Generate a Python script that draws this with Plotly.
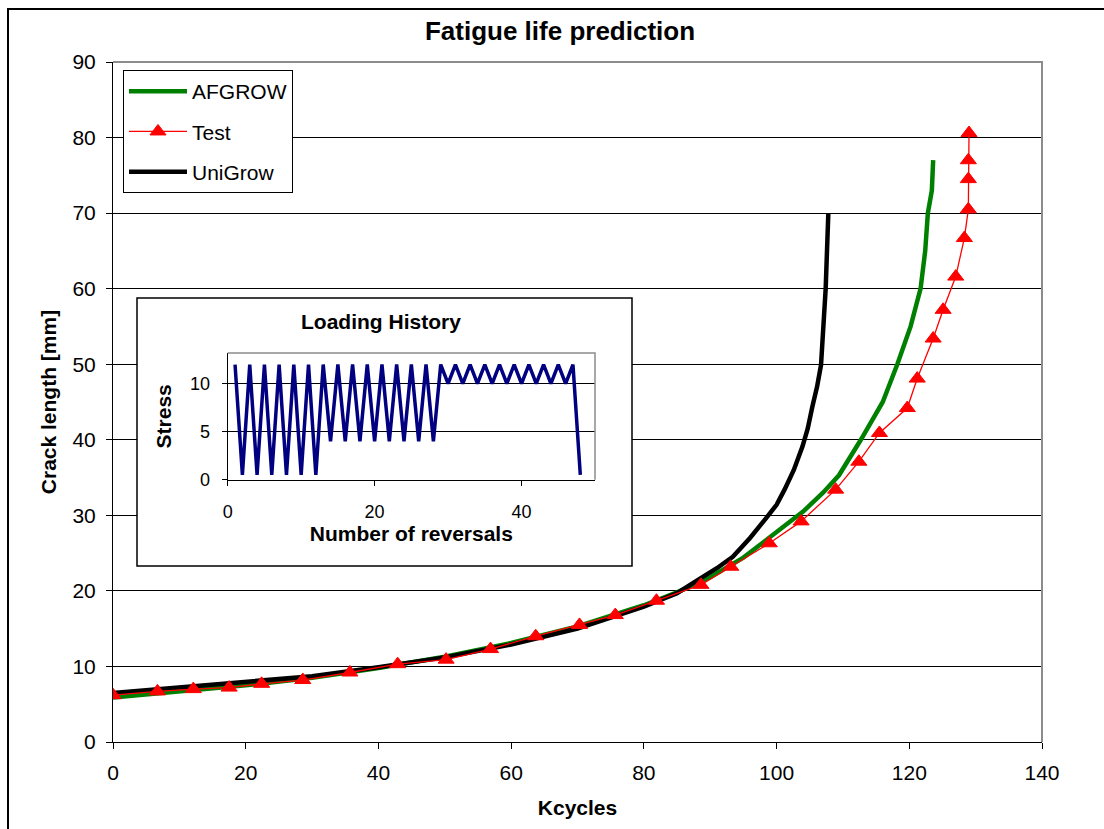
import plotly.graph_objects as go

# ---------------- data ----------------
afgrow_kcycles = [0, 10, 20, 30, 40, 50, 60, 70, 80, 85, 90, 95, 100, 104, 107,
                  109.4, 112.7, 116.0, 118.2, 120.2, 121.7, 122.4, 122.8, 123.4, 123.6]
afgrow_crack = [5.9, 6.7, 7.5, 8.5, 9.8, 11.3, 13.1, 15.3, 18.1, 19.8, 21.8, 24.4, 27.8, 30.5, 33.0,
                35.3, 40.0, 45.0, 50.0, 55.0, 60.0, 65.0, 70.0, 73.0, 77.0]

test_kcycles = [0, 6.7, 12.1, 17.5, 22.4, 28.6, 35.7, 42.9, 50.2, 56.9, 63.7, 70.3, 75.7, 81.9,
                88.6, 93.1, 98.9, 103.7, 108.9, 112.4, 115.5, 119.7, 121.2, 123.6, 125.1, 127.0,
                128.3, 128.9, 128.9, 128.9, 129.0]
test_crack = [6.2, 6.7, 7.0, 7.2, 7.7, 8.2, 9.2, 10.3, 10.9, 12.3, 14.0, 15.5, 16.8, 18.7,
              20.8, 23.2, 26.3, 29.2, 33.4, 37.1, 40.9, 44.2, 48.1, 53.4, 57.2, 61.6,
              66.7, 70.5, 74.5, 77.0, 80.6]

unigrow_kcycles = [0, 10, 20, 30, 40, 50, 60, 70, 80, 85, 88.4, 91, 93.4, 96, 98.4, 100, 101.2,
                   102.6, 103.9, 104.7, 105.4, 106.1, 106.7, 107.1, 107.4, 107.6, 107.8]
unigrow_crack = [6.5, 7.2, 7.9, 8.7, 9.9, 11.2, 12.9, 15.0, 17.9, 19.7, 21.6, 23.0, 24.5, 27.0,
                 29.6, 31.4, 33.4, 36.0, 39.1, 41.5, 44.4, 47.0, 49.9, 55.0, 60.0, 65.0, 70.0]

reversals = list(range(1, 49))
stress = [12, 0.5, 12, 0.5, 12, 0.5, 12, 0.5, 12, 0.5, 12, 0.5,
          12, 4, 12, 4, 12, 4, 12, 4, 12, 4, 12, 4, 12, 4, 12, 4,
          12, 10, 12, 10, 12, 10, 12, 10, 12, 10, 12, 10, 12, 10, 12, 10, 12, 10,
          12, 0.5]

main_x_ticks = [0, 20, 40, 60, 80, 100, 120, 140]
main_y_ticks = [0, 10, 20, 30, 40, 50, 60, 70, 80, 90]
inset_x_ticks = [0, 20, 40]
inset_y_ticks = [0, 5, 10]

# ---------------- layout geometry (pixels) ----------------
W, H = 1104, 829
PL, PR, PT, PB = 113, 1042, 62, 742
X_MAX, Y_MAX = 140, 90


def fx(px):
    return (px - PL) / (PR - PL)


def fy(py):
    return (PB - py) / (PB - PT)


def dx(px):
    return fx(px) * X_MAX


def dy(py):
    return fy(py) * Y_MAX


FONT = "Arial, Liberation Sans, sans-serif"

fig = go.Figure()

fig.add_trace(go.Scatter(
    x=afgrow_kcycles, y=afgrow_crack, name="AFGROW", mode="lines",
    line=dict(color="#008000", width=4.5), legendrank=1, legendgroup="a",
    xaxis="x", yaxis="y"))
fig.add_trace(go.Scatter(
    x=unigrow_kcycles, y=unigrow_crack, name="UniGrow", mode="lines",
    line=dict(color="#000000", width=4.5), legendrank=3, legendgroup="c",
    xaxis="x", yaxis="y"))
fig.add_trace(go.Scatter(
    x=test_kcycles, y=test_crack, name="Test", mode="lines+markers",
    line=dict(color="#FF0000", width=1.3),
    marker=dict(symbol="triangle-up", size=14, color="#FF0000",
                line=dict(color="#FF0000", width=1)),
    legendrank=2, legendgroup="b", xaxis="x", yaxis="y"))

fig.add_trace(go.Scatter(
    x=reversals, y=stress, mode="lines", showlegend=False,
    line=dict(color="#000080", width=3.5), xaxis="x2", yaxis="y2"))

# inset placement (pixels)
IL, IR, IT, IB = 227.7, 595, 353, 479.7
BOX_L, BOX_R, BOX_T, BOX_B = 137, 632, 298, 566

axis_common = dict(showline=True, linecolor="black", linewidth=1, ticks="outside",
                   tickcolor="black", tickwidth=1, zeroline=False, mirror=False)

fig.update_layout(
    width=W, height=H,
    margin=dict(l=PL, r=W - PR, t=PT, b=H - PB),
    paper_bgcolor="white", plot_bgcolor="white",
    font=dict(family=FONT, color="black", size=21),
    title=dict(text="Fatigue life prediction", x=560 / W, xref="container",
               y=1 - 31 / H, yref="container", xanchor="center", yanchor="middle",
               font=dict(family=FONT, size=26, weight="bold", color="black")),
    xaxis=dict(domain=[0, 1], range=[0, X_MAX], tickvals=main_x_ticks, showgrid=False,
               ticklen=6, ticklabelstandoff=6, tickfont=dict(size=21),
               title=dict(text="Kcycles", standoff=17,
                          font=dict(size=21, weight="bold")),
               anchor="y", **axis_common),
    yaxis=dict(domain=[0, 1], range=[0, Y_MAX], tickvals=main_y_ticks, showgrid=True,
               gridcolor="black", gridwidth=1, ticklen=6, ticklabelstandoff=6,
               tickfont=dict(size=21),
               title=dict(text="Crack length [mm]", standoff=10,
                          font=dict(size=21, weight="bold")),
               anchor="x", **axis_common),
    xaxis2=dict(domain=[fx(IL), fx(IR)], range=[0, 50], tickvals=inset_x_ticks, showgrid=False,
                ticklen=5, ticklabelstandoff=11, tickfont=dict(size=18), anchor="y2",
                title=dict(text="Number of reversals", standoff=0,
                           font=dict(size=21, weight="bold")),
                **axis_common),
    yaxis2=dict(domain=[fy(IB), fy(IT)], range=[0, 13.2], tickvals=inset_y_ticks, showgrid=True,
                gridcolor="black", gridwidth=1, ticklen=5, ticklabelstandoff=8,
                tickfont=dict(size=18), anchor="x2",
                title=dict(text="Stress", standoff=12, font=dict(size=21, weight="bold")),
                **axis_common),
    legend=dict(x=fx(123), y=fy(70), xanchor="left", yanchor="top",
                bgcolor="white", bordercolor="black", borderwidth=1,
                font=dict(family=FONT, size=21, color="black"),
                traceorder="grouped", tracegroupgap=10, itemwidth=58),
    showlegend=True,
)

shapes = [
    # outer chart frame
    dict(type="rect", xref="paper", yref="paper", x0=fx(8), x1=fx(1113), y0=fy(840), y1=fy(9),
         line=dict(color="black", width=2), fillcolor="rgba(0,0,0,0)", layer="above"),
    # main plot area gray top/right border
    dict(type="path", xref="paper", yref="paper", path="M 0,1 L 1,1 L 1,0",
         line=dict(color="#8c8c8c", width=2), layer="above"),
    # inset chart box (white, covers main grid)
    dict(type="rect", xref="x", yref="y", x0=dx(BOX_L), x1=dx(BOX_R), y0=dy(BOX_B), y1=dy(BOX_T),
         line=dict(color="black", width=1.5), fillcolor="white", layer="between"),
    # inset plot area gray top/right border
    dict(type="path", xref="paper", yref="paper",
         path=f"M {fx(IL)},{fy(IT)} L {fx(IR)},{fy(IT)} L {fx(IR)},{fy(IB)}",
         line=dict(color="#8c8c8c", width=1.5), layer="above"),
]
fig.update_layout(shapes=shapes)

fig.add_annotation(text="Loading History", xref="paper", yref="paper",
                   x=fx(381), y=fy(321), xanchor="center", yanchor="middle", showarrow=False,
                   font=dict(family=FONT, size=21, weight="bold", color="black"))

fig.write_html("out.html")
